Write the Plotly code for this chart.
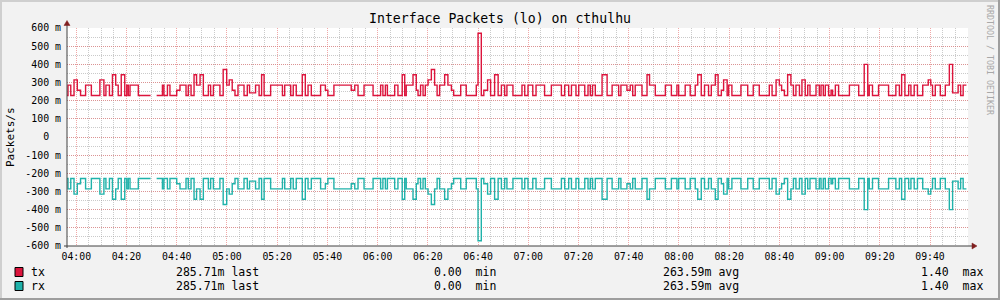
import plotly.graph_objects as go
import pandas as pd

# ---------------- data ----------------
# minutes after 04:00 where a new tx value starts (last entry = end of data)
tx_change_min = [
    -3.8, -3.3, -2.2, -0.9, 0.4, 1.7, 3.7, 6.0, 9.4, 11.0,
    11.8, 13.2, 14.4, 15.7, 16.7, 17.9, 19.3, 20.1, 20.7, 21.4,
    24.7, 29.6, 32.0, 34.3, 34.9, 36.3, 37.3, 40.0, 41.3, 43.7,
    44.6, 45.7, 46.9, 47.9, 49.3, 50.6, 52.6, 53.5, 54.6, 57.2,
    58.5, 59.9, 60.9, 62.1, 63.2, 64.4, 66.8, 68.1, 69.0, 71.4,
    72.8, 73.8, 74.8, 77.4, 82.1, 83.0, 85.4, 86.4, 87.6, 90.0,
    91.2, 92.3, 93.6, 97.3, 99.2, 100.2, 102.6, 109.5, 110.9, 112.2,
    114.6, 118.2, 121.2, 122.1, 123.1, 123.9, 126.8, 128.1, 129.8, 130.8,
    131.4, 134.1, 135.4, 136.1, 137.1, 138.1, 139.0, 140.1, 141.4, 142.7,
    143.7, 144.7, 146.7, 148.0, 149.4, 150.3, 153.1, 155.3, 159.3, 160.0,
    161.3, 162.3, 163.8, 165.0, 166.6, 168.0, 169.3, 170.6, 171.5, 173.9,
    177.5, 178.6, 179.9, 181.8, 183.1, 186.5, 189.2, 193.2, 194.5, 196.1,
    197.2, 199.0, 200.1, 202.5, 203.8, 204.7, 205.6, 206.7, 209.4, 211.4,
    213.4, 216.0, 216.9, 219.3, 220.6, 221.6, 222.6, 225.3, 227.3, 228.3,
    230.6, 234.6, 237.0, 239.2, 239.9, 242.5, 244.5, 246.5, 247.5, 248.9,
    250.2, 251.8, 252.9, 254.5, 255.6, 256.9, 257.8, 259.2, 259.8, 261.1,
    264.7, 267.4, 269.6, 272.0, 276.0, 277.1, 278.7, 280.0, 280.9, 282.0,
    283.3, 284.6, 285.6, 286.6, 288.0, 289.0, 290.3, 291.3, 292.2, 294.6,
    295.9, 296.6, 297.5, 298.3, 299.6, 300.6, 301.2, 302.3, 303.6, 307.9,
    311.6, 313.8, 315.2, 315.8, 317.1, 319.5, 323.5, 326.4, 327.8, 328.7,
    330.0, 331.5, 332.4, 333.7, 335.0, 337.1, 339.3, 340.3, 341.0, 342.1,
    344.1, 346.1, 347.7, 349.0, 351.2, 352.2, 353.2, 354.5,
]
# tx packets/s in milli units (None = no data)
tx_value_m = [
    228.57, 285.71, 228.57, 314.29, 257.14, 228.57, 285.71, 228.57, 314.29, 228.57,
    285.71, 228.57, 342.86, 285.71, 228.57, 342.86, 228.57, 285.71, 228.57, 285.71,
    228.57, None, 228.57, 285.71, 228.57, 285.71, 228.57, 257.14, 285.71, 228.57,
    285.71, 228.57, 342.86, 285.71, 342.86, 228.57, 285.71, 228.57, 285.71, 228.57,
    371.43, 285.71, 314.29, 257.14, 228.57, 285.71, 228.57, 285.71, 242.86, 285.71,
    228.57, 342.86, 228.57, 285.71, 228.57, 285.71, 228.57, 285.71, 228.57, 342.86,
    228.57, 285.71, 228.57, 285.71, 257.14, 228.57, 285.71, 257.14, 285.71, 228.57,
    285.71, 228.57, 285.71, 228.57, 285.71, 228.57, 285.71, 228.57, 342.86, 228.57,
    285.71, 342.86, 257.14, 228.57, 285.71, 228.57, 285.71, 314.29, 371.43, 285.71,
    228.57, 285.71, 342.86, 285.71, 257.14, 228.57, 285.71, 228.57, 285.71, 571.43,
    228.57, 257.14, 314.29, 228.57, 342.86, 228.57, 285.71, 228.57, 285.71, 228.57,
    285.71, 228.57, 285.71, 228.57, 285.71, 228.57, 285.71, 228.57, 285.71, 228.57,
    285.71, 228.57, 285.71, 228.57, 285.71, 228.57, 285.71, 228.57, 342.86, 228.57,
    285.71, 228.57, 285.71, 257.14, 285.71, 228.57, 285.71, 228.57, 342.86, 285.71,
    228.57, 285.71, 228.57, 285.71, 228.57, 285.71, 228.57, 285.71, 342.86, 228.57,
    285.71, 228.57, 285.71, 342.86, 228.57, 257.14, 314.29, 228.57, 285.71, 228.57,
    285.71, 228.57, 285.71, 228.57, 285.71, 228.57, 314.29, 285.71, 257.14, 228.57,
    342.86, 285.71, 228.57, 285.71, 228.57, 314.29, 228.57, 285.71, 228.57, 285.71,
    228.57, 285.71, 228.57, 285.71, 228.57, 257.14, 228.57, 285.71, 228.57, 285.71,
    228.57, 400.00, 228.57, 285.71, 228.57, 285.71, 228.57, 285.71, 228.57, 342.86,
    228.57, 285.71, 228.57, 285.71, 228.57, 285.71, 314.29, 285.71, 228.57, 285.71,
    228.57, 285.71, 400.00, 242.86, 285.71, 228.57, 285.71, 285.71,
]
# loopback interface: received packets equal transmitted packets (drawn negative)
rx_value_m = list(tx_value_m)

y_tick_vals = [600, 500, 400, 300, 200, 100, 0, -100, -200, -300, -400, -500, -600]
y_tick_text = ["600 m", "500 m", "400 m", "300 m", "200 m", "100 m", "0\u00a0\u00a0",
               "-100 m", "-200 m", "-300 m", "-400 m", "-500 m", "-600 m"]

series_names = ["tx", "rx"]
series_colors = ["#DC143C", "#20B2AA"]
legend_last = ["285.71m last", "285.71m last"]
legend_min = ["0.00\u00a0\u00a0min", "0.00\u00a0\u00a0min"]
legend_avg = ["263.59m avg", "263.59m avg"]
legend_max = ["1.40\u00a0\u00a0max", "1.40\u00a0\u00a0max"]

title_text = "Interface Packets (lo) on cthulhu"
y_label = "Packets/s"
watermark = "RRDTOOL / TOBI OETIKER"

# ---------------- figure ----------------
base = pd.Timestamp("2024-01-01 04:00:00")


def tm(m):
    return base + pd.Timedelta(minutes=m)


def steps(times, vals, sign):
    xs, ys = [], []
    for i in range(len(times) - 1):
        v = vals[i]
        yv = None if v is None else sign * v
        xs += [tm(times[i]), tm(times[i + 1])]
        ys += [yv, yv]
    return xs, ys


MONO = "DejaVu Sans Mono"
L, R, T, B = 67, 32, 28, 54
W, H = 1000, 300
PW, PH = W - L - R, H - T - B


def px(x):
    return (x - L) / PW


def py(y):
    return (H - B - y) / PH


fig = go.Figure()
for name, color, vals, sign in [("tx", series_colors[0], tx_value_m, 1),
                                ("rx", series_colors[1], rx_value_m, -1)]:
    xs, ys = steps(tx_change_min, vals, sign)
    fig.add_trace(go.Scatter(x=xs, y=ys, mode="lines", name=name,
                             line=dict(color=color, width=1.4),
                             connectgaps=False, hoverinfo="skip"))

major_grid = "rgba(230,110,110,0.6)"
minor_grid = "rgba(150,150,150,0.5)"

fig.update_layout(
    width=W, height=H,
    margin=dict(l=L, r=R, t=T, b=B, pad=0),
    paper_bgcolor="#F2F2F2",
    plot_bgcolor="#FFFFFF",
    showlegend=False,
    font=dict(family=MONO, color="#000000"),
    xaxis=dict(
        type="date",
        range=[tm(-3.70), tm(355.13)],
        tickformat="%H:%M",
        tick0=base, dtick=20 * 60 * 1000,
        showgrid=True, gridcolor=major_grid, gridwidth=1, griddash="1px,1px",
        minor=dict(tick0=base, dtick=5 * 60 * 1000, showgrid=True,
                   gridcolor=minor_grid, gridwidth=1, griddash="1px,1px"),
        zeroline=False, showline=False, ticks="",
        ticklabelstandoff=3,
        tickfont=dict(family=MONO, size=9.8, color="#000000"),
        fixedrange=True,
    ),
    yaxis=dict(
        range=[-600, 600],
        tickmode="array", tickvals=y_tick_vals, ticktext=y_tick_text,
        showgrid=True, gridcolor=major_grid, gridwidth=1, griddash="1px,1px",
        minor=dict(tickmode="linear", tick0=0, dtick=50, showgrid=True,
                   gridcolor=minor_grid, gridwidth=1, griddash="1px,1px"),
        zeroline=False, showline=False, ticks="",
        ticklabelstandoff=5,
        tickfont=dict(family=MONO, size=9.9, color="#000000"),
        fixedrange=True,
    ),
)

shapes = []
# 3D frame
shapes += [
    dict(type="rect", xref="paper", yref="paper", x0=px(0), x1=px(W), y0=py(0), y1=py(2),
         fillcolor="#CFCFCF", line=dict(width=0), layer="above"),
    dict(type="rect", xref="paper", yref="paper", x0=px(0), x1=px(2), y0=py(0), y1=py(H),
         fillcolor="#CFCFCF", line=dict(width=0), layer="above"),
    dict(type="rect", xref="paper", yref="paper", x0=px(0), x1=px(W), y0=py(H - 2), y1=py(H),
         fillcolor="#9E9E9E", line=dict(width=0), layer="above"),
    dict(type="rect", xref="paper", yref="paper", x0=px(W - 2), x1=px(W), y0=py(0), y1=py(H),
         fillcolor="#9E9E9E", line=dict(width=0), layer="above"),
]
# axes + arrows
axis_col = "#404040"
arrow_col = "#801F1F"
shapes += [
    dict(type="line", xref="paper", yref="paper", x0=0, x1=0, y0=py(H - B + 2), y1=py(23),
         line=dict(color=axis_col, width=1), layer="above"),
    dict(type="line", xref="paper", yref="paper", x0=px(L - 3), x1=px(973), y0=0, y1=0,
         line=dict(color=axis_col, width=1), layer="above"),
    dict(type="path", xref="paper", yref="paper",
         path=f"M {px(L-3)} {py(25.5)} L {px(L+3)} {py(25.5)} L {px(L)} {py(20.5)} Z",
         fillcolor=arrow_col, line=dict(color=arrow_col, width=0.5), layer="above"),
    dict(type="path", xref="paper", yref="paper",
         path=f"M {px(972)} {py(H-B-3)} L {px(972)} {py(H-B+3)} L {px(977)} {py(H-B)} Z",
         fillcolor=arrow_col, line=dict(color=arrow_col, width=0.5), layer="above"),
]

annotations = [
    dict(text=title_text, x=px(500), y=py(19), xref="paper", yref="paper",
         xanchor="center", yanchor="middle", showarrow=False,
         font=dict(family=MONO, size=13.2, color="#000000")),
    dict(text=y_label, x=px(10), y=py(137), xref="paper", yref="paper",
         xanchor="center", yanchor="middle", showarrow=False, textangle=-90,
         font=dict(family=MONO, size=11, color="#000000")),
    dict(text=watermark, x=px(990), y=py(60), xref="paper", yref="paper",
         xanchor="center", yanchor="middle", showarrow=False, textangle=90,
         font=dict(family=MONO, size=8.3, color="#A8A8A8")),
]

row_y = [272, 286]
for i in range(2):
    yy = row_y[i]
    shapes.append(dict(type="rect", xref="paper", yref="paper",
                       x0=px(15), x1=px(23), y0=py(yy - 4.5), y1=py(yy + 4.5),
                       fillcolor=series_colors[i], line=dict(color="#000000", width=1),
                       layer="above"))
    lf = dict(family=MONO, size=11.5, color="#000000")
    annotations.append(dict(text=series_names[i], x=px(30), y=py(yy), xref="paper", yref="paper",
                            xanchor="left", yanchor="middle", showarrow=False, font=lf, borderpad=0))
    for txt, xr in [(legend_last[i], 259.5), (legend_min[i], 497),
                    (legend_avg[i], 740), (legend_max[i], 984)]:
        annotations.append(dict(text=txt, x=px(xr), y=py(yy), xref="paper", yref="paper",
                                xanchor="right", yanchor="middle", showarrow=False,
                                font=lf, borderpad=0))

fig.update_layout(shapes=shapes, annotations=annotations)
fig.write_html("out.html")
